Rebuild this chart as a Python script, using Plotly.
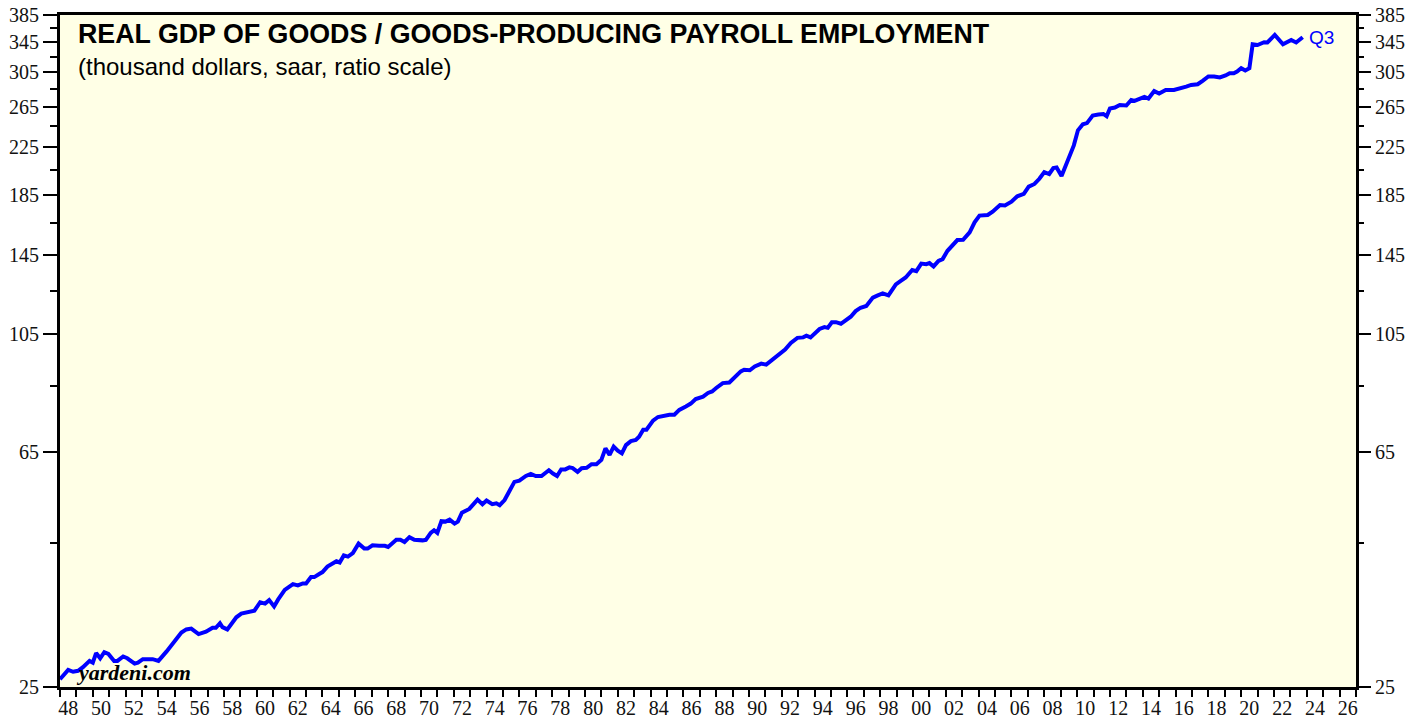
import numpy as np
import plotly.graph_objects as go

# ---- data (decimal year, thousand dollars per worker) ----
year_frac = [
    1948.0, 1948.5, 1948.8, 1949.1, 1949.4, 1949.8, 1950.0, 1950.2, 1950.45, 1950.7,
    1950.95, 1951.3, 1951.5, 1951.85, 1952.1, 1952.55, 1952.75, 1953.05, 1953.65, 1954.0,
    1954.5, 1955.0, 1955.4, 1955.7, 1956.0, 1956.45, 1956.9, 1957.3, 1957.5, 1957.75,
    1957.9, 1958.2, 1958.75, 1959.05, 1959.35, 1959.65, 1959.85, 1960.2, 1960.5, 1960.75,
    1961.05, 1961.3, 1961.7, 1962.2, 1962.5, 1962.8, 1963.0, 1963.3, 1963.5, 1963.8,
    1964.0, 1964.3, 1964.85, 1965.05, 1965.3, 1965.55, 1965.85, 1966.2, 1966.55, 1966.75,
    1967.05, 1967.45, 1967.8, 1968.0, 1968.5, 1968.75, 1969.0, 1969.3, 1969.6, 1970.1,
    1970.3, 1970.6, 1970.8, 1971.0, 1971.25, 1971.5, 1971.75, 1972.05, 1972.25, 1972.5,
    1972.95, 1973.45, 1973.75, 1974.0, 1974.35, 1974.6, 1974.8, 1975.1, 1975.4, 1975.7,
    1976.0, 1976.4, 1976.7, 1977.0, 1977.35, 1977.55, 1977.8, 1978.05, 1978.3, 1978.55,
    1978.8, 1979.05, 1979.25, 1979.55, 1979.8, 1980.1, 1980.4, 1980.7, 1981.0, 1981.25,
    1981.5, 1981.75, 1982.0, 1982.25, 1982.5, 1982.8, 1983.1, 1983.3, 1983.55, 1983.75,
    1984.15, 1984.45, 1984.75, 1985.15, 1985.45, 1985.75, 1986.15, 1986.45, 1986.75, 1987.2,
    1987.5, 1987.75, 1988.0, 1988.4, 1988.8, 1989.1, 1989.5, 1989.7, 1990.05, 1990.35,
    1990.75, 1991.05, 1991.35, 1991.75, 1992.2, 1992.55, 1992.95, 1993.3, 1993.5, 1993.75,
    1994.0, 1994.3, 1994.6, 1994.8, 1995.05, 1995.3, 1995.6, 1995.9, 1996.2, 1996.5,
    1996.8, 1997.15, 1997.55, 1997.85, 1998.15, 1998.5, 1998.95, 1999.25, 1999.55, 1999.95,
    2000.2, 2000.5, 2000.8, 2001.0, 2001.25, 2001.55, 2001.8, 2002.1, 2002.4, 2002.7,
    2003.05, 2003.45, 2003.75, 2004.05, 2004.55, 2004.85, 2005.3, 2005.6, 2006.0, 2006.35,
    2006.75, 2007.05, 2007.4, 2007.7, 2008.0, 2008.3, 2008.55, 2008.75, 2009.05, 2009.35,
    2009.55, 2009.8, 2010.05, 2010.35, 2010.6, 2010.95, 2011.3, 2011.6, 2011.8, 2012.0,
    2012.3, 2012.6, 2013.0, 2013.3, 2013.5, 2013.8, 2014.1, 2014.35, 2014.7, 2015.0,
    2015.4, 2015.9, 2016.35, 2016.65, 2016.95, 2017.35, 2017.65, 2018.0, 2018.35, 2018.7,
    2019.05, 2019.3, 2019.55, 2019.75, 2020.0, 2020.25, 2020.5, 2020.7, 2021.0, 2021.4,
    2021.6, 2022.05, 2022.55, 2023.05, 2023.35, 2023.75,
]
ratio = [
    25.8, 26.8, 26.6, 26.7, 27.1, 27.8, 27.6, 28.7, 28.1, 28.8,
    28.6, 27.8, 27.8, 28.3, 28.1, 27.5, 27.6, 28.0, 28.0, 27.8,
    28.9, 30.2, 31.2, 31.6, 31.7, 31.0, 31.3, 31.8, 31.8, 32.4,
    31.9, 31.6, 33.2, 33.7, 33.8, 34.0, 34.1, 35.3, 35.1, 35.6,
    34.7, 35.7, 37.1, 38.0, 37.8, 38.1, 38.1, 39.1, 39.1, 39.6,
    39.9, 40.8, 41.7, 41.5, 42.7, 42.5, 43.1, 44.8, 43.9, 43.9,
    44.5, 44.4, 44.4, 44.2, 45.5, 45.5, 45.1, 46.0, 45.5, 45.4,
    45.5, 46.8, 47.3, 46.8, 49.1, 49.0, 49.4, 48.6, 49.0, 50.8,
    51.6, 53.6, 52.6, 53.4, 52.6, 52.8, 52.4, 53.5, 55.7, 57.6,
    57.9, 59.0, 59.5, 59.0, 59.0, 59.5, 60.4, 59.6, 59.0, 60.6,
    60.6, 61.1, 60.9, 60.0, 60.9, 61.0, 61.9, 61.9, 63.0, 66.0,
    64.3, 66.5, 65.4, 64.7, 66.9, 68.0, 68.3, 69.2, 71.2, 71.2,
    73.9, 75.0, 75.4, 75.7, 75.7, 77.2, 78.3, 79.2, 80.7, 81.5,
    82.7, 83.2, 84.4, 86.1, 86.3, 87.9, 90.3, 90.9, 90.7, 92.1,
    93.2, 92.8, 94.4, 96.7, 98.7, 101.4, 103.5, 103.7, 104.4, 103.7,
    105.6, 107.3, 108.1, 107.8, 110.3, 110.3, 109.6, 111.1, 112.8, 115.4,
    117.0, 117.8, 121.9, 123.0, 124.0, 123.0, 128.7, 130.5, 132.3, 136.4,
    135.8, 140.0, 139.7, 140.3, 138.4, 141.5, 142.6, 147.5, 151.2, 154.1,
    154.2, 159.0, 165.6, 170.2, 170.6, 172.9, 177.7, 177.4, 180.1, 184.1,
    185.9, 191.5, 193.6, 197.7, 203.2, 201.6, 206.5, 207.0, 200.0, 210.2,
    218.9, 226.5, 240.8, 246.8, 248.0, 255.8, 256.8, 257.4, 255.0, 263.2,
    264.2, 267.0, 266.4, 272.5, 271.5, 274.2, 276.0, 274.0, 282.5, 279.8,
    283.8, 283.8, 285.7, 287.7, 289.7, 290.5, 294.6, 299.8, 299.8, 298.6,
    301.0, 303.8, 303.8, 305.9, 310.0, 307.1, 310.0, 341.7, 340.8, 344.6,
    344.3, 355.0, 341.7, 347.7, 344.3, 351.7,
]

# ---- axis ticks ----
y_major = [25, 65, 105, 145, 185, 225, 265, 305, 345, 385]
y_minor = [45, 85, 125, 165, 205, 245, 285, 325, 365]
x_tick_years = list(range(1948, 2028))
x_label_years = list(range(1948, 2027, 2))
x_label_text = [f"{y % 100:02d}" for y in x_label_years]

title_text = "REAL GDP OF GOODS / GOODS-PRODUCING PAYROLL EMPLOYMENT"
subtitle_text = "(thousand dollars, saar, ratio scale)"
last_label = "Q3"

BLUE = "#0000FF"
BG = "#FFFFE6"
TICKFONT = dict(family="Liberation Serif, Times New Roman, serif", size=20, color="#111111")

fig = go.Figure()
fig.add_trace(go.Scatter(x=year_frac, y=ratio, mode="lines",
                         line=dict(color=BLUE, width=4), hoverinfo="x+y",
                         showlegend=False))
# invisible helper traces so the overlay axes render
fig.add_trace(go.Scatter(x=[year_frac[0]], y=[ratio[0]], xaxis="x2", yaxis="y",
                         mode="markers", marker=dict(opacity=0), showlegend=False,
                         hoverinfo="skip"))
fig.add_trace(go.Scatter(x=[year_frac[0]], y=[ratio[0]], xaxis="x", yaxis="y2",
                         mode="markers", marker=dict(opacity=0), showlegend=False,
                         hoverinfo="skip"))

xr = [1948, 2027.0001]
yr = [np.log10(25) - 1e-5, np.log10(385) + 1e-5]

yaxis_common = dict(
    type="log", range=yr, tickmode="array", tickvals=y_major,
    ticktext=[str(v) for v in y_major], ticks="outside", ticklen=14, tickwidth=2,
    tickcolor="black", tickfont=TICKFONT, showgrid=False, zeroline=False,
    automargin=False, ticklabeloverflow="allow",
    minor=dict(tickmode="array", tickvals=y_minor, ticks="outside", ticklen=7,
               tickwidth=2, tickcolor="black", showgrid=False),
)

# page body has an 8px margin, so the figure is 8px smaller and margins shifted
fig.update_layout(
    width=1416, height=713,
    margin=dict(l=52, r=68, t=7, b=34, autoexpand=False),
    paper_bgcolor="white", plot_bgcolor=BG,
    xaxis=dict(range=xr, tickmode="array", tickvals=x_tick_years,
               ticktext=["" for _ in x_tick_years], ticks="outside", ticklen=7,
               tickwidth=2, tickcolor="black", showline=True, linewidth=3,
               linecolor="black", mirror=True, showgrid=False, zeroline=False,
               automargin=False),
    xaxis2=dict(range=xr, overlaying="x", side="bottom", anchor="y",
                tickmode="array", tickvals=[y + 0.5 for y in x_label_years],
                ticktext=x_label_text, ticks="", showline=False, showgrid=False,
                zeroline=False, tickfont=TICKFONT, ticklabelstandoff=7,
                automargin=False, ticklabeloverflow="allow"),
    yaxis=dict(**yaxis_common, side="left", showline=True, linewidth=3,
               linecolor="black", mirror=True),
    yaxis2=dict(**yaxis_common, side="right", overlaying="y", anchor="x",
                showline=False),
    annotations=[
        dict(text=title_text, xref="paper", yref="paper", x=0.0123, y=0.971,
             xanchor="left", yanchor="middle", showarrow=False,
             font=dict(family="Liberation Sans, Arial, sans-serif", size=26.8,
                       color="black", weight="bold")),
        dict(text=subtitle_text, xref="paper", yref="paper", x=0.0123, y=0.924,
             xanchor="left", yanchor="middle", showarrow=False,
             font=dict(family="Liberation Sans, Arial, sans-serif", size=24,
                       color="black")),
        dict(text="<b><i>yardeni.com</i></b>", xref="paper", yref="paper",
             x=0.0108, y=0.021, xanchor="left", yanchor="middle", showarrow=False,
             font=dict(family="Liberation Serif, Times New Roman, serif", size=22,
                       color="black")),
        dict(text=last_label, xref="x", yref="y", x=year_frac[-1],
             y=np.log10(ratio[-1]), xanchor="left", yanchor="middle", xshift=4,
             showarrow=False,
             font=dict(family="Liberation Sans, Arial, sans-serif", size=19,
                       color=BLUE)),
    ],
)

fig.write_html("out.html")
